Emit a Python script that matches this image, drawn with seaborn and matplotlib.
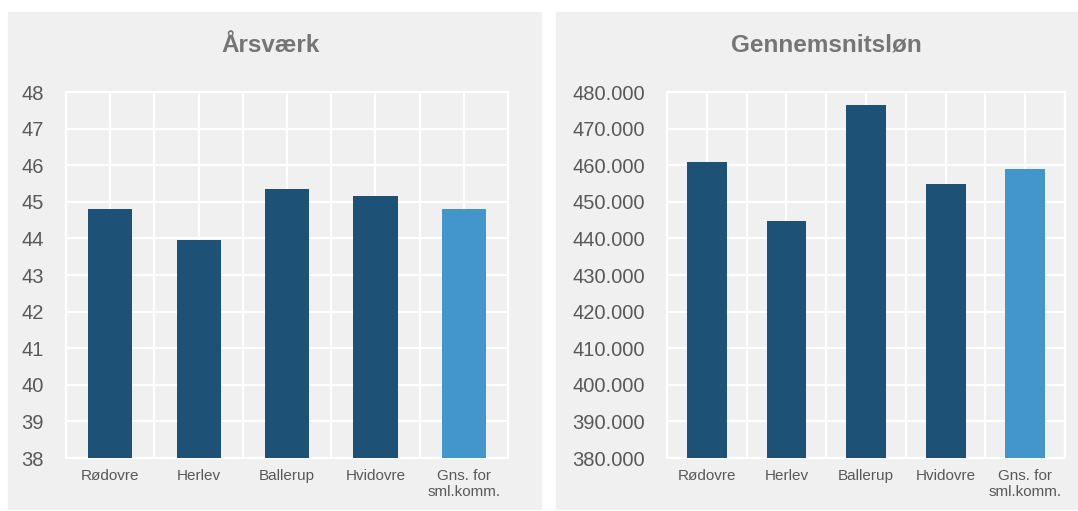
import pandas as pd
import seaborn as sns
import matplotlib.pyplot as plt
from matplotlib.patches import Rectangle
from matplotlib.ticker import FuncFormatter, MultipleLocator

kommuner = ["Rødovre", "Herlev", "Ballerup", "Hvidovre", "Gns. for\nsml.komm."]
aarsvaerk = [44.8, 43.95, 45.35, 45.15, 44.8]
loen = [460900, 444800, 476400, 455000, 458900]
farver = ["#1d5276", "#1d5276", "#1d5276", "#1d5276", "#4396cc"]

sns.set_theme(style="whitegrid")
plt.rcParams["font.family"] = ["Liberation Sans", "DejaVu Sans"]

bg = "#f0f0f0"
fig = plt.figure(figsize=(10.78, 5.11), dpi=100)
W, H = 1078, 511

# grey panels behind each chart
fig.patches.append(Rectangle((8 / W, 1 - 509 / H), 533 / W, 497 / H,
                             transform=fig.transFigure, color=bg, zorder=-10))
fig.patches.append(Rectangle((556 / W, 1 - 509 / H), 522 / W, 497 / H,
                             transform=fig.transFigure, color=bg, zorder=-10))

ax1 = fig.add_axes([66 / W, 1 - 458 / H, 442 / W, 366 / H])
ax2 = fig.add_axes([667 / W, 1 - 458 / H, 398 / W, 366 / H])

df = pd.DataFrame({"kommune": kommuner, "aarsvaerk": aarsvaerk, "loen": loen})

for ax, col, lo, hi, step in [(ax1, "aarsvaerk", 38, 48, 1), (ax2, "loen", 380000, 480000, 10000)]:
    ax.set_facecolor(bg)
    sns.barplot(data=df, x="kommune", y=col, hue="kommune", palette=farver,
                saturation=1, width=0.5, legend=False, ax=ax, zorder=3, linewidth=0)
    ax.set_ylim(lo, hi)
    ax.set_xlim(-0.5, 4.5)
    ax.yaxis.set_major_locator(MultipleLocator(step))
    ax.xaxis.set_minor_locator(MultipleLocator(1, offset=0.5))
    ax.grid(True, which="both", color="white", linewidth=1.6, zorder=0)
    ax.set_axisbelow(True)
    for s in ax.spines.values():
        s.set_color("white")
        s.set_linewidth(1.6)
    ax.tick_params(axis="both", which="both", length=0)
    ax.tick_params(axis="y", labelsize=14.5, labelcolor="#595959", pad=16)
    ax.tick_params(axis="x", labelsize=11, labelcolor="#595959", pad=8)
    ax.set_xlabel("")
    ax.set_ylabel("")

ax2.yaxis.set_major_formatter(FuncFormatter(lambda v, p: f"{int(v):,}".replace(",", ".")))
ax2.tick_params(axis="y", pad=16)

fig.text(271 / W, 1 - 45 / H, "Årsværk", ha="center", va="center",
         fontsize=17.5, fontweight="bold", color="#757575")
fig.text(826 / W, 1 - 45 / H, "Gennemsnitsløn", ha="center", va="center",
         fontsize=17.5, fontweight="bold", color="#757575")

fig.savefig("out.png", dpi=100)
